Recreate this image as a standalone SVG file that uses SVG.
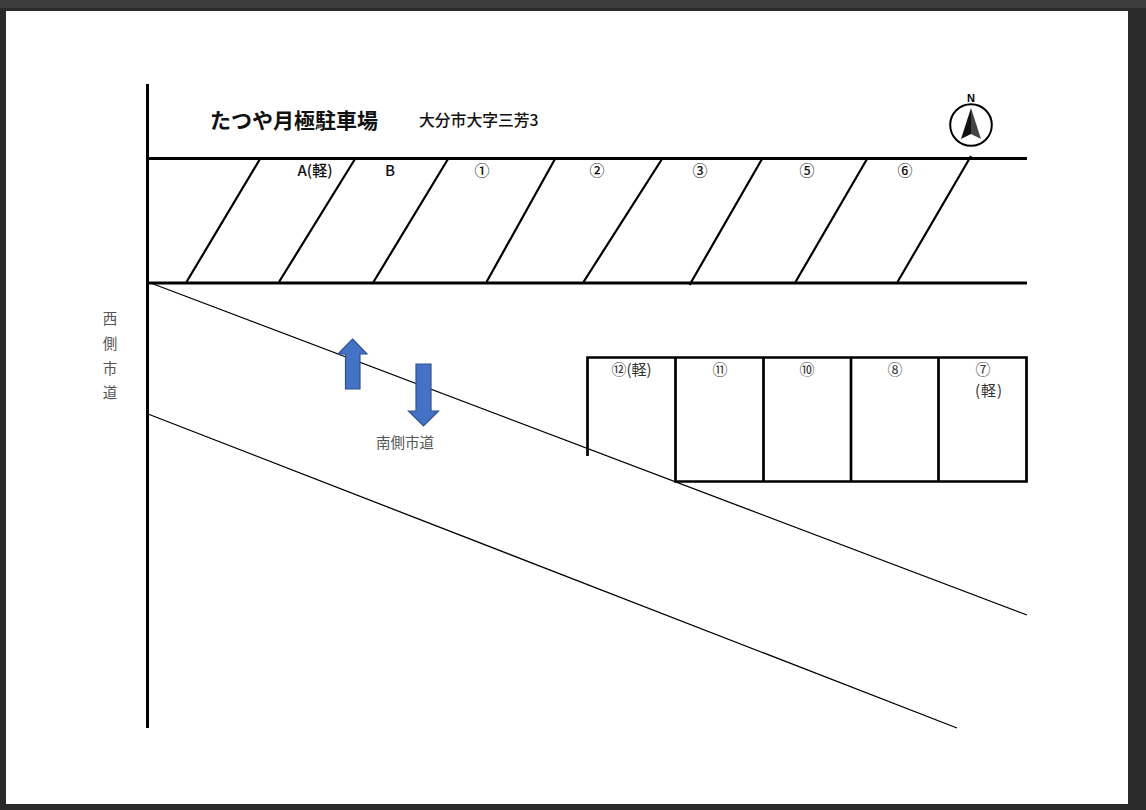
<svg xmlns="http://www.w3.org/2000/svg" width="1146" height="810" viewBox="0 0 1146 810">
<defs>
<style>
.t{font-family:"Noto Sans CJK JP","Liberation Sans",sans-serif;fill:#111}
.thick{stroke:#000;stroke-width:3;fill:none}
.box{stroke:#000;stroke-width:2.700;fill:none}
.thin{stroke:#000;stroke-width:1.300;fill:none}
.slot{stroke:#000;stroke-width:2.200;fill:none}
.lb{font-size:15px;text-anchor:middle;font-weight:500}
.lr{font-size:15px;text-anchor:middle;fill:#333}
.arrow{fill:#4472c4;stroke:#2f528f;stroke-width:1.200}
.m{font-size:14.500px;text-anchor:middle;fill:#555}
</style>
</defs>
<rect id="backdrop" width="1146" height="810" fill="#2a2a2a"/>
<rect id="topbar" width="1146" height="8" fill="#3d3d3d"/>
<rect id="page" x="6" y="11" width="1122" height="793" fill="#fff"/>
<g id="connectors">
<path class="thick" d="M147.500 84V728"/>
<path class="thick" d="M148 158.500H1027M148 283H1027"/>
<path class="slot" d="M260 159L186.500 282M355 159L279 282M448 159L373.500 282M555 159L486.500 282M662 159L583.500 282M762 159L689.500 285M867 159L795.500 282M971 156L897.500 282"/>
<path class="box" d="M587.500 456V357.500H1026.500V481.500H675.500V357.500M763.500 357.500V481.500M851 357.500V481.500M938.500 357.500V481.500"/>
<path class="thin" d="M148 282L1027 615M148 414L957 728"/>
</g>
<g id="title"><text class="t" x="210" y="128" font-size="21" font-weight="700">たつや月極駐車場</text></g>
<g id="address"><text class="t" x="419" y="126" font-size="15.800" font-weight="500">大分市大字三芳3</text></g>
<g id="compass">
<text x="971" y="102" font-family="Liberation Sans,sans-serif" font-size="11" font-weight="700" text-anchor="middle">N</text>
<circle cx="971" cy="125" r="20.800" fill="#fff" stroke="#000" stroke-width="2"/>
<path d="M971 108L961 139L971 134Z" fill="#111"/>
<path d="M971 108L981 139L971 134Z" fill="#444"/>
</g>
<g id="slot-a"><text class="t lb" x="315" y="176">A(軽)</text></g>
<g id="slot-b"><text class="t lb" x="390" y="176">B</text></g>
<g id="slot-1"><text class="t lb" x="482" y="176">①</text></g>
<g id="slot-2"><text class="t lb" x="597" y="176">②</text></g>
<g id="slot-3"><text class="t lb" x="700" y="176">③</text></g>
<g id="slot-5"><text class="t lb" x="807" y="176">⑤</text></g>
<g id="slot-6"><text class="t lb" x="905" y="176">⑥</text></g>
<g id="slot-12"><text class="t lr" x="631.500" y="375">⑫(軽)</text></g>
<g id="slot-11"><text class="t lr" x="720" y="375">⑪</text></g>
<g id="slot-10"><text class="t lr" x="807" y="375">⑩</text></g>
<g id="slot-8"><text class="t lr" x="895" y="375">⑧</text></g>
<g id="slot-7"><text class="t lr" x="983" y="375">⑦</text><text class="t lr" x="989" y="396" letter-spacing="1">(軽)</text></g>
<g id="west-road">
<text class="t m" x="110" y="324">西</text>
<text class="t m" x="110" y="348.500">側</text>
<text class="t m" x="110" y="373.500">市</text>
<text class="t m" x="110" y="398">道</text>
</g>
<g id="south-road"><text class="t m" x="405" y="448">南側市道</text></g>
<g id="arrow-up"><path class="arrow" d="M352.500 339L367 354H360V389H345.500V354H338Z"/></g>
<g id="arrow-down"><path class="arrow" d="M416 364H431V411H438.500L423.500 426L408.500 411H416Z"/></g>
</svg>
